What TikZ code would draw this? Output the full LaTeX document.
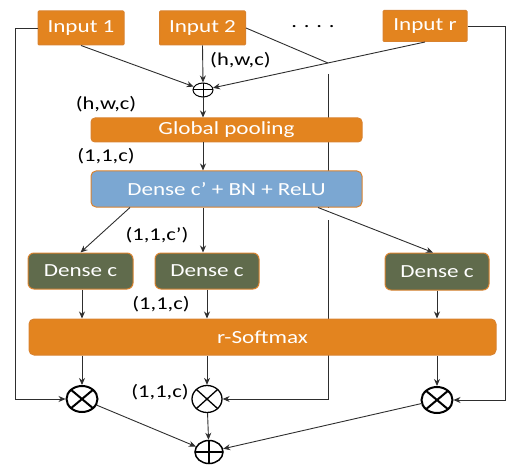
\documentclass[tikz,border=0pt]{standalone}
\usepackage{fontspec}
\setmainfont{Carlito}[FakeStretch=1.25]
\usetikzlibrary{arrows.meta, positioning, calc, shapes.geometric, backgrounds}
\definecolor{boxorange}{HTML}{E3841F}
\definecolor{edgeorange}{HTML}{D9822E}
\definecolor{bnblue}{HTML}{7BA7D2}
\definecolor{denseolive}{HTML}{606B4C}
\definecolor{wire}{HTML}{2E2E2E}

\begin{document}
\begin{tikzpicture}[x=1pt, y=-1pt,
    box/.style={draw=edgeorange, line width=1pt, fill=boxorange, text=white,
                minimum height=36pt, inner sep=0pt,
                font=\fontsize{18.5}{20}\selectfont},
    inbox/.style={box, minimum width=86pt, minimum height=34pt, rounded corners=1pt},
    bar/.style={box, rounded corners=5pt},
    densebox/.style={box, fill=denseolive, minimum width=104pt, rounded corners=6pt},
    lbl/.style={font=\fontsize{18}{20}\selectfont, inner sep=0pt},
    arr/.style={-{Stealth[length=7pt, width=6pt]}, line width=0.9pt, draw=wire},
    wireline/.style={line width=0.9pt, draw=wire},
    opsum/.style={ellipse, draw, inner sep=0pt,
      path picture={\draw (path picture bounding box.north) -- (path picture bounding box.south)
                          (path picture bounding box.west) -- (path picture bounding box.east);}},
    opmul/.style={ellipse, draw, inner sep=0pt, minimum width=31pt, minimum height=26pt,
      path picture={\draw ($(path picture bounding box.center)!0.707!(path picture bounding box.north east)$)
                       -- ($(path picture bounding box.center)!0.707!(path picture bounding box.south west)$)
                          ($(path picture bounding box.center)!0.707!(path picture bounding box.north west)$)
                       -- ($(path picture bounding box.center)!0.707!(path picture bounding box.south east)$);}},
  ]
    \useasboundingbox (0,0) rectangle (508,465);

    % inputs
    \node[inbox] (in1) at (81,28) {Input 1};
    \node[inbox] (in2) at (202.5,28) {Input 2};
    \node[inbox, minimum width=84pt, minimum height=31pt] (inr) at (425,26) {Input r};
    \node[lbl, anchor=base] (dots) at (313,28) {. . . .};

    \node[opsum, line width=1pt, minimum width=20pt, minimum height=14pt] (sumtop) at (203,90) {};

    % attention branch
    \node[bar, minimum width=271pt, minimum height=24pt, rounded corners=4pt] (pool) at (226.5,130) {Global pooling};
    \node[bar, fill=bnblue, minimum width=271pt] (densebn) at (226.5,189) {Dense c’ + BN + ReLU};
    \node[densebox, minimum width=105pt] (dc1) at (80.5,271) {Dense c};
    \node[densebox] (dc2) at (207,271) {Dense c};
    \node[densebox, minimum height=37pt] (dc3) at (437,271.5) {Dense c};
    \node[bar, minimum width=467pt] (soft) at (262.5,337) {r-Softmax};

    % fusion
    \node[opmul, line width=2pt] (mul1) at (82,399) {};
    \node[opmul, line width=1.3pt, minimum width=30pt, minimum height=27pt] (mul2) at (207,399) {};
    \node[opmul, line width=2pt] (mul3) at (437,400) {};
    \node[opsum, line width=1.5pt, minimum width=28pt, minimum height=23pt] (sumbot) at (209,452) {};

    % shapes
    \node[lbl, anchor=west] (hwc1) at (210,60) {(h,w,c)};
    \node[lbl] (hwc2) at (106,104) {(h,w,c)};
    \node[lbl] (shp1) at (106,156) {(1,1,c)};
    \node[lbl] (shp2) at (157,235) {(1,1,c’)};
    \node[lbl] (shp3) at (161,304) {(1,1,c)};
    \node[lbl] (shp4) at (160,392) {(1,1,c)};

    \draw[arr] (in1.south) -- (sumtop);
    \draw[arr] (in2.south) -- (sumtop.north);
    \draw[arr] (inr.south) -- (sumtop);
    \draw[arr] (sumtop.south) -- (sumtop.south |- pool.north);
    \draw[arr] (sumtop.south |- pool.south) -- (sumtop.south |- densebn.north);

    \draw[arr] ([xshift=-96.5pt]densebn.south) -- (dc1.north);
    \draw[arr] (densebn.south -| sumtop) -- (dc2.north -| sumtop);
    \draw[arr] ([xshift=91.5pt]densebn.south) -- ([xshift=-4pt]dc3.north);

    \draw[arr] (dc1.south -| mul1) -- (soft.north -| mul1);
    \draw[arr] (dc2.south) -- (dc2.south |- soft.north);
    \draw[arr] (dc3.south) -- (dc3.south |- soft.north);
    \draw[arr] (soft.south -| mul1) -- (mul1.north);
    \draw[arr] (soft.south -| mul2) -- (mul2.north);
    \draw[arr] (soft.south -| mul3) -- (mul3.north);

    % skip paths
    \draw[arr] (in1.west) -- ++(-22,0) |- (mul1.west);
    \draw[arr] (inr.east) -- ++(38,0) |- (mul3.east);
    \coordinate (jumpT) at (328,63);
    \coordinate (jumpB) at (328,74);
    \coordinate (gapB) at (328,220);
    \draw[wireline] (in2.east) -- (jumpT);
    \begin{pgfonlayer}{background}
      \draw[wireline] (jumpB) -- (jumpB |- densebn.south);
      \draw[arr] (gapB) |- (mul2.east);
    \end{pgfonlayer}

    \draw[arr] (mul1) -- (sumbot);
    \draw[arr] (mul2) -- (sumbot);
    \draw[arr] (mul3) -- (sumbot);
\end{tikzpicture}
\end{document}
